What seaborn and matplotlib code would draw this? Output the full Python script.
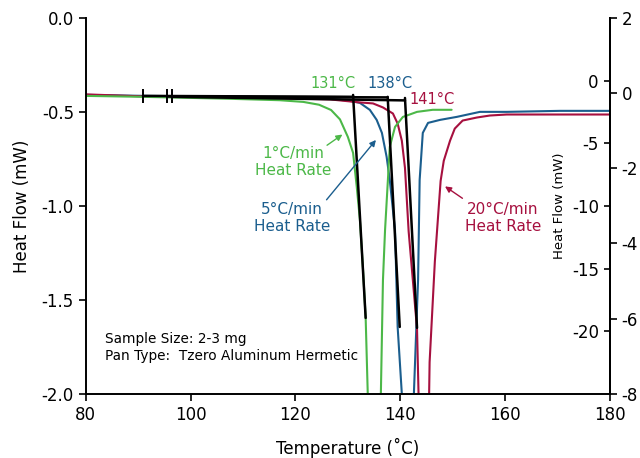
import matplotlib
matplotlib.use("Agg")
import matplotlib.pyplot as plt
import seaborn as sns
import pandas as pd

# ---------------- data ----------------
# 1 °C/min (left axis, mW)
t_1 = [80.0, 90.9, 106.9, 117.0, 121.5, 124.5, 126.8, 128.5, 130.0, 131.0, 131.7, 132.3, 132.9, 133.4,
       133.8, 135.0, 136.3, 136.7, 137.1, 138.0, 139.0, 140.5, 143.2, 146.2, 149.8]
hf_1 = [-0.415, -0.420, -0.430, -0.438, -0.447, -0.462, -0.490, -0.540, -0.633, -0.718, -0.899, -1.074, -1.340, -1.596,
        -2.000, -2.245, -2.000, -1.394, -1.128, -0.686, -0.580, -0.527, -0.500, -0.489, -0.489]

# 5 °C/min (far right axis, mW)
t_5 = [80.0, 90.9, 111.3, 126.6, 130.4, 132.3, 134.2, 135.5, 136.5, 137.4, 138.0, 139.0, 139.5,
       140.3, 141.5, 142.6, 143.4, 143.7, 144.3, 145.3, 147.6, 150.8, 155.2, 160.3, 170.5, 180.0]
hf_5 = [-0.048, -0.074, -0.101, -0.154, -0.207, -0.261, -0.447, -0.713, -1.059, -1.697, -2.309, -3.638, -6.218,
        -8.000, -9.223, -8.000, -4.968, -2.309, -1.059, -0.793, -0.713, -0.633, -0.500, -0.500, -0.473, -0.473]

# 20 °C/min (inner right axis, mW)
t_20 = [80.0, 90.9, 111.3, 126.6, 132.3, 134.8, 136.7, 138.6, 139.5, 140.3, 140.9, 141.6, 143.2,
        143.5, 144.5, 145.5, 145.6, 146.6, 147.7, 148.3, 149.5, 150.4, 151.9, 154.6, 157.1, 160.3, 170.5, 180.0]
hf_20 = [-1.104, -1.265, -1.345, -1.506, -1.747, -1.827, -2.149, -2.631, -3.434, -4.799, -6.968, -12.028, -19.819,
         -25.201, -28.896, -25.201, -22.470, -14.438, -8.012, -6.406, -4.799, -3.835, -3.193, -2.952, -2.791,
         -2.711, -2.711, -2.711]

# onset construction lines (left-axis units)
base_1_t = [90.9, 131.1]; base_1_hf = [-0.415, -0.420]
base_5_t = [95.5, 137.6]; base_5_hf = [-0.418, -0.423]
base_20_t = [96.4, 140.9]; base_20_hf = [-0.420, -0.439]
tan_1_t = [131.0, 133.4]; tan_1_hf = [-0.410, -1.596]
tan_5_t = [137.6, 139.9]; tan_5_hf = [-0.420, -1.644]
tan_20_t = [140.9, 143.2]; tan_20_hf = [-0.426, -1.649]
limit_t = [90.9, 95.5, 96.4]
limit_hf = [-0.418, -0.418, -0.418]

onset_labels = ["131°C", "138°C", "141°C"]
rate_labels = ["1°C/min\nHeat Rate", "5°C/min\nHeat Rate", "20°C/min\nHeat Rate"]

left_ticks = [0.0, -0.5, -1.0, -1.5, -2.0]
left_ticklabels = ["0.0", "-0.5", "-1.0", "-1.5", "-2.0"]
inner_ticks = [0, -5, -10, -15, -20]
outer_ticks = [2, 0, -2, -4, -6, -8]
x_ticks = [80, 100, 120, 140, 160, 180]

GREEN = "#4cb848"
BLUE = "#1b5e8e"
RED = "#a6103f"

# ---------------- figure ----------------
sns.set_style("ticks")
plt.rcParams["font.family"] = ["DejaVu Sans"]
plt.rcParams["axes.unicode_minus"] = False
plt.rcParams["text.color"] = "black"
plt.rcParams["axes.labelcolor"] = "black"

fig = plt.figure(figsize=(6.4, 4.58), dpi=100)
ax = fig.add_axes([0.134, 0.140, 0.819, 0.821])
ax2 = ax.twinx()   # outer right axis (5 °C/min)
ax3 = ax.twinx()   # inner right axis (20 °C/min)

ax.set_zorder(3)
ax.patch.set_visible(False)

sns.lineplot(x=t_5, y=hf_5, ax=ax2, color=BLUE, lw=1.5, sort=False, estimator=None)
sns.lineplot(x=t_20, y=hf_20, ax=ax3, color=RED, lw=1.5, sort=False, estimator=None)
sns.lineplot(x=t_1, y=hf_1, ax=ax, color=GREEN, lw=1.5, sort=False, estimator=None)

for bt, bh in [(base_1_t, base_1_hf), (base_5_t, base_5_hf), (base_20_t, base_20_hf)]:
    sns.lineplot(x=bt, y=bh, ax=ax, color="black", lw=1.8, sort=False, estimator=None)
for tt, th in [(tan_1_t, tan_1_hf), (tan_5_t, tan_5_hf), (tan_20_t, tan_20_hf)]:
    sns.lineplot(x=tt, y=th, ax=ax, color="black", lw=1.8, sort=False, estimator=None)
ax.plot(limit_t, limit_hf, ls="none", marker="|", ms=10, mew=1.4, color="black")

# limits and ticks
ax.set_xlim(80, 180)
ax.set_ylim(-2.0, 0.0)
ax2.set_ylim(-8, 2)
ax3.set_ylim(-25, 5)
ax.set_xticks(x_ticks)
ax.set_yticks(left_ticks)
ax.set_yticklabels(left_ticklabels)
ax2.set_yticks(outer_ticks)
ax3.set_yticks(inner_ticks)

for a in (ax, ax2, ax3):
    a.tick_params(labelsize=12, width=1.2, length=5, colors="black")
    a.spines["top"].set_visible(False)
ax.spines["right"].set_visible(True)
for a in (ax2, ax3):
    a.spines["left"].set_visible(False)
    a.spines["bottom"].set_visible(False)
for s in ["left", "bottom", "right"]:
    ax.spines[s].set_linewidth(1.4)
    ax.spines[s].set_color("black")
ax2.spines["right"].set_linewidth(1.4)
ax2.spines["right"].set_color("black")
ax3.spines["right"].set_visible(False)

ax3.tick_params(axis="y", direction="in", pad=-8, length=4)
for lbl in ax3.get_yticklabels():
    lbl.set_horizontalalignment("right")

ax.set_xlabel("Temperature (˚C)", fontsize=12, labelpad=10)
ax.set_ylabel("Heat Flow (mW)", fontsize=12, labelpad=8)
ax2.set_ylabel("")
ax3.set_ylabel("")
fig.text(560 / 640, 1 - 206 / 458, "Heat Flow (mW)", rotation=90, fontsize=9.5,
         ha="center", va="center")

# onset labels
ax.text(127.1, -0.351, onset_labels[0], color=GREEN, fontsize=10.5, ha="center", va="center")
ax.text(138.0, -0.351, onset_labels[1], color=BLUE, fontsize=10.5, ha="center", va="center")
ax.text(146.0, -0.436, onset_labels[2], color=RED, fontsize=10.5, ha="center", va="center")

# rate labels with arrows
ax.text(119.5, -0.766, rate_labels[0], color=GREEN, fontsize=11, ha="center", va="center",
        linespacing=1.15)
ax.annotate("", xy=(129.4, -0.612), xytext=(125.6, -0.686),
            arrowprops=dict(arrowstyle="-|>", color=GREEN, lw=1.0, mutation_scale=9))
ax.text(119.3, -1.064, rate_labels[1], color=BLUE, fontsize=11, ha="center", va="center",
        linespacing=1.15)
ax.annotate("", xy=(135.7, -0.638), xytext=(125.6, -0.979),
            arrowprops=dict(arrowstyle="-|>", color=BLUE, lw=1.0, mutation_scale=9))
ax.text(159.6, -1.064, rate_labels[2], color=RED, fontsize=11, ha="center", va="center",
        linespacing=1.15)
ax.annotate("", xy=(148.1, -0.888), xytext=(152.3, -0.968),
            arrowprops=dict(arrowstyle="-|>", color=RED, lw=1.0, mutation_scale=9))

ax.text(83.6, -1.755, "Sample Size: 2-3 mg\nPan Type:  Tzero Aluminum Hermetic",
        fontsize=9.8, ha="left", va="center", linespacing=1.3, color="black")

fig.savefig("out.png", dpi=100, facecolor="white")
